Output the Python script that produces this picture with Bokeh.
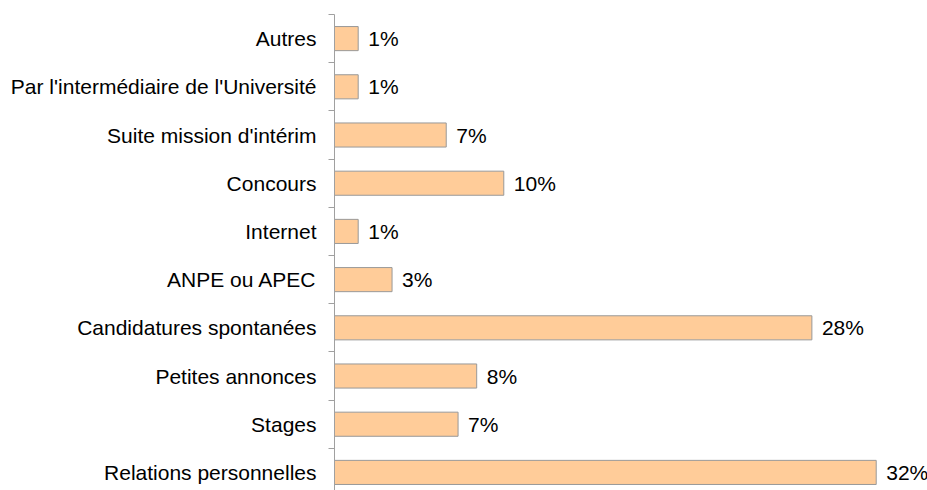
from bokeh.plotting import figure
from bokeh.models import ColumnDataSource, FixedTicker, Range1d
from bokeh.core.properties import value
from bokeh.embed import file_html
from bokeh.resources import INLINE

# Categories from top to bottom
categories = [
    "Autres",
    "Par l'intermédiaire de l'Université",
    "Suite mission d'intérim",
    "Concours",
    "Internet",
    "ANPE ou APEC",
    "Candidatures spontanées",
    "Petites annonces",
    "Stages",
    "Relations personnelles",
]
percentages = [1.4, 1.4, 6.6, 10.0, 1.4, 3.4, 28.2, 8.4, 7.3, 32.0]

n = len(categories)
ypos = [n - 1 - i for i in range(n)]
labels = [f"{round(v)}%" for v in percentages]

src = ColumnDataSource(dict(y=ypos, v=percentages, lab=labels, cat=categories))

FONT = "Liberation Sans"

p = figure(
    width=927, height=490,
    output_backend="svg", toolbar_location=None,
    x_range=Range1d(0, 35.03), y_range=Range1d(-0.375, n - 0.5),
    x_axis_location=None,
    min_border_left=334, min_border_top=14, min_border_bottom=0, min_border_right=0,
)
p.outline_line_color = None
p.xgrid.visible = False
p.ygrid.visible = False

p.hbar(y="y", right="v", left=0, height=0.5, source=src,
       fill_color="#FFCC99", line_color="#999999", line_width=1)

p.text(x="v", y="y", text="lab", source=src, x_offset=10,
       text_align="left", text_baseline="middle",
       text_font=value(FONT), text_font_size="21px", text_color="#000000")

ax = p.yaxis[0]
ax.ticker = FixedTicker(ticks=ypos, minor_ticks=[i - 0.5 for i in range(n + 1)])
ax.major_label_overrides = {y: c for y, c in zip(ypos, categories)}
ax.major_tick_out = 0
ax.major_tick_in = 0
ax.minor_tick_out = 6
ax.minor_tick_in = 0
ax.minor_tick_line_color = "#A0A0A0"
ax.axis_line_color = "#A0A0A0"
ax.major_label_standoff = 12
ax.major_label_text_font = FONT
ax.major_label_text_font_size = "21px"
ax.major_label_text_color = "#000000"

open("out.html", "w").write(file_html(p, INLINE))
